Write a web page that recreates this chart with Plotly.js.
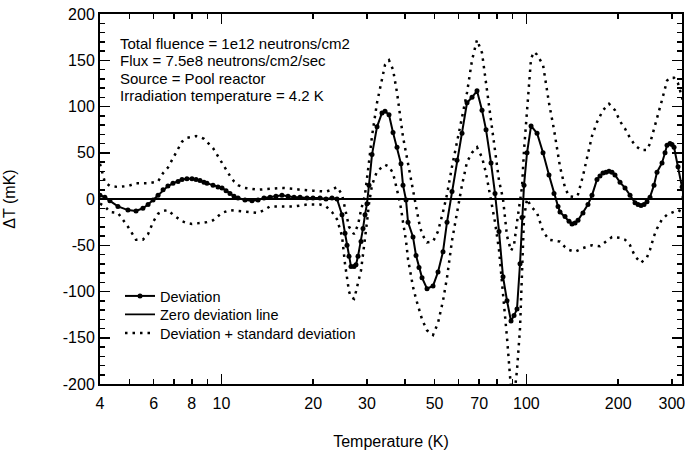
<!DOCTYPE html>
<html>
<head>
<meta charset="utf-8">
<script src="https://cdn.plot.ly/plotly-3.0.1.min.js"></script>
<style>html,body{margin:0;padding:0;background:#fff;}#chart{width:685px;height:451px;}</style>
</head>
<body>
<div id="chart"></div>
<script>
// ---- Data ----
var devT = [4.00,4.15,4.31,4.58,4.94,5.25,5.53,5.75,5.97,6.20,6.44,6.68,6.94,7.21,7.43,7.71,8.01,8.26,8.51,8.77,8.97,9.39,9.75,10.05,10.36,10.67,11.00,11.34,11.95,12.60,13.19,13.80,14.44,15.10,15.80,16.54,17.31,18.11,19.09,19.97,21.06,22.03,23.05,23.94,24.86,25.43,25.82,26.21,26.61,27.22,27.63,28.05,28.70,29.13,29.58,30.02,30.48,31.18,32.38,33.62,34.40,35.45,36.54,37.66,38.81,39.40,40.31,40.92,42.49,43.47,44.46,45.48,47.23,49.42,51.32,53.29,54.93,57.04,59.23,61.51,63.88,66.34,68.89,71.54,73.74,76.57,78.92,81.34,83.83,86.40,89.05,91.09,93.17,95.31,96.76,98.24,100.5,103.6,108.4,113.4,118.6,123.2,127.0,128.9,133.9,138.0,141.1,144.4,147.7,153.3,159.2,164.1,170.4,174.3,178.3,182.4,186.6,190.9,195.2,202.8,210.6,218.7,227.1,232.3,237.6,243.1,248.6,254.3,262.1,268.1,278.4,284.8,289.2,295.8,300.3,304.9,314.2,323.8,328.7];
var devY = [4,2,-2,-8,-12,-13,-10,-6,-1,4,10,14,17,19,21,22,22,21,20,18,17,15,13,12,9,6,3,1,-1,-2,-1,1,2,3,4,3,2,2,1,1,1,0,1,0,-17,-37,-50,-62,-73,-73,-71,-62,-46,-32,-17,-5,15,48,78,93,95,91,72,56,38,15,-1,-25,-41,-61,-74,-85,-97,-94,-79,-57,-25,8,42,71,104,110,117,96,75,39,6,-35,-84,-110,-132,-126,-119,-70,-20,15,50,79,71,50,26,6,-8,-14,-19,-24,-27,-26,-23,-15,-6,4,21,25,28,29,30,29,26,18,12,4,-4,-6,-7,-6,-3,2,15,29,39,50,58,60,59,56,35,13,2];

var upT = [4.00,4.15,4.31,4.58,4.94,5.25,5.53,5.75,6.20,6.44,6.68,6.94,7.21,7.43,7.71,8.01,8.26,8.51,8.77,9.39,9.75,10.05,10.36,10.67,11.00,11.34,11.95,13.19,14.44,15.80,17.31,18.11,19.97,22.03,23.05,23.94,24.86,25.43,26.21,27.22,28.05,28.70,29.58,30.48,31.18,32.38,33.62,34.40,35.45,36.54,37.66,38.81,39.40,40.31,40.92,42.49,43.47,44.46,45.48,47.23,49.42,51.32,53.29,54.93,57.04,59.23,61.51,63.88,66.34,68.89,71.54,73.74,76.57,78.92,81.34,83.83,86.40,89.05,91.09,93.17,95.31,96.76,98.24,100.5,103.6,106.0,108.4,113.4,118.6,123.2,127.0,128.9,133.9,138.0,144.4,147.7,153.3,159.2,164.1,170.4,178.3,186.6,195.2,202.8,210.6,218.7,227.1,237.6,248.6,254.3,262.1,268.1,278.4,289.2,295.8,304.9,314.2,323.8,328.7];
var upY = [38,18,14,13,14,17,17,17,19,28,34,44,55,62,66,67,68,67,65,55,46,40,33,25,19,15,12,10,11,12,11,10,9,8,10,13,5,-10,-30,-38,-28,-12,5,40,68,104,130,145,150,140,115,85,67,50,38,10,-10,-25,-38,-47,-46,-35,-14,5,35,62,89,115,150,172,158,125,85,53,20,0,-40,-56,-50,-25,0,13,53,96,152,159,156,145,104,75,45,35,12,3,2,5,25,48,68,83,96,103,96,84,76,66,58,53,53,60,75,88,107,128,131,131,125,110,100];

var loT = [4.00,4.15,4.31,4.58,4.94,5.25,5.53,5.75,5.97,6.20,6.44,6.68,6.94,7.21,7.43,7.71,8.01,8.51,8.97,9.39,9.75,10.05,10.67,11.34,11.95,12.60,13.19,13.80,14.44,15.80,17.31,19.09,21.06,22.03,23.05,23.94,24.86,25.43,25.82,26.21,26.61,27.22,27.63,28.05,28.70,29.13,29.58,30.02,30.48,31.18,32.38,33.62,34.40,35.45,36.54,37.66,38.81,39.40,40.31,40.92,42.49,43.47,44.46,45.48,47.23,49.42,51.32,53.29,54.93,57.04,59.23,61.51,63.88,66.34,68.89,71.54,73.74,76.57,78.92,81.34,83.83,86.40,89.05,91.09,93.17,95.31,96.76,98.24,100.5,103.6,108.4,113.4,118.6,123.2,128.9,133.9,138.0,144.4,153.3,164.1,174.3,182.4,190.9,202.8,210.6,218.7,227.1,237.6,248.6,254.3,262.1,268.1,278.4,289.2,300.3,314.2,328.7];
var loY = [-5,-8,-14,-15,-30,-44,-44,-38,-25,-16,-13,-12,-17,-21,-24,-26,-27,-26,-25,-23,-19,-15,-12,-13,-14,-15,-15,-12,-8,-8,-8,-6,-6,-8,-14,-22,-40,-70,-88,-100,-106,-108,-100,-92,-77,-60,-45,-25,-5,15,30,35,37,35,28,10,-10,-25,-45,-65,-95,-108,-120,-130,-142,-147,-134,-110,-85,-45,-15,15,40,50,56,45,28,0,-25,-55,-100,-150,-205,-215,-185,-140,-80,-20,0,-8,-15,-35,-44,-45,-46,-52,-55,-57,-53,-50,-51,-46,-41,-42,-44,-50,-62,-69,-63,-55,-40,-32,-22,-17,-15,-12,-15];

var zeroT = [4, 330];
var zeroY = [0, 0];

var xTickVals = [4,5,6,7,8,9,20,30,40,50,60,70,80,90,200,300];
var xTickText = ['4','','6','','8','','20','30','','50','','70','','','200','300'];
var xLongTickVals = [10,100];
var xLongTickText = ['10','100'];
var yTickVals = [-200,-150,-100,-50,0,50,100,150,200];
var yTickText = ['-200','-150','-100','-50','0','50','100','150','200'];

var seriesNames = ['Deviation','Zero deviation line','Deviation + standard deviation'];
var infoLines = ['Total fluence = 1e12 neutrons/cm2','Flux = 7.5e8 neutrons/cm2/sec','Source = Pool reactor','Irradiation temperature = 4.2 K'];
var xTitle = 'Temperature (K)';
var yTitle = '\u0394T (mK)';

// ---- Chart ----
var FONT = 'Liberation Sans, Arial, Helvetica, sans-serif';
var xr = [Math.log10(4), Math.log10(4) + 582/305];
var dotDash = '2.5px,5px';

var traces = [
  {x: zeroT, y: zeroY, xaxis: 'x2', yaxis: 'y', mode: 'lines', name: seriesNames[1], legend: 'legend2',
   line: {color: '#000', width: 1.8}},
  {x: upT, y: upY, mode: 'lines', name: seriesNames[2], legend: 'legend3',
   line: {color: '#000', width: 2.5, dash: dotDash}},
  {x: loT, y: loY, mode: 'lines', name: seriesNames[2], showlegend: false,
   line: {color: '#000', width: 2.5, dash: dotDash}},
  {x: devT, y: devY, mode: 'lines+markers', name: seriesNames[0], legend: 'legend',
   line: {color: '#000', width: 2}, marker: {color: '#000', size: 5}}
];

var annotations = infoLines.map(function(t, i){
  var ypx = 43.5 + i*17.3;
  return {text: t, xref: 'paper', yref: 'paper', x: 18/582, y: 1 - (ypx-14)/370,
          xanchor: 'left', yanchor: 'middle', showarrow: false,
          font: {family: FONT, size: 15, color: '#000'}};
});

function legendAt(centerPx){
  return {x: 20/582, y: 1 - (centerPx - 16 - 14)/370, xanchor: 'left', yanchor: 'top',
          bgcolor: 'rgba(0,0,0,0)', borderwidth: 0, font: {family: FONT, size: 14.5, color: '#000'}};
}

var layout = {
  width: 685, height: 451,
  margin: {l: 100, r: 3, t: 14, b: 67},
  paper_bgcolor: '#fff', plot_bgcolor: '#fff',
  font: {family: FONT, size: 16, color: '#000'},
  showlegend: true,
  legend: legendAt(296),
  legend2: legendAt(314.5),
  legend3: legendAt(333),
  xaxis: {type: 'log', range: xr, showline: true, linecolor: '#000', linewidth: 2, mirror: 'ticks',
          ticks: 'inside', ticklen: 5, tickwidth: 1.5, tickcolor: '#000',
          tickmode: 'array', tickvals: xTickVals.concat(xLongTickVals), ticktext: xTickText.concat(xLongTickText),
          ticklabeloverflow: 'allow', ticklabelstandoff: 4,
          showgrid: false, zeroline: false, tickfont: {family: FONT, size: 16},
          title: {text: xTitle, font: {family: FONT, size: 16}, standoff: 25}},
  xaxis2: {type: 'log', range: xr, overlaying: 'x', anchor: 'y', side: 'bottom',
           showline: false, mirror: 'ticks', ticks: 'inside', ticklen: 10, tickwidth: 1.5, tickcolor: '#000',
           tickmode: 'array', tickvals: xLongTickVals, showticklabels: false, showgrid: false, zeroline: false},
  yaxis: {range: [-200, 200], showline: true, linecolor: '#000', linewidth: 2, mirror: 'ticks',
          ticks: 'inside', ticklen: 10, tickwidth: 1.5, tickcolor: '#000',
          tickmode: 'array', tickvals: yTickVals, ticktext: yTickText, ticklabeloverflow: 'allow',
          minor: {ticks: 'inside', ticklen: 5, tickwidth: 1.5, tickcolor: '#000', dtick: 10, tick0: 0, showgrid: false},
          showgrid: false, zeroline: false, tickfont: {family: FONT, size: 16},
          title: {text: yTitle, font: {family: FONT, size: 16}, standoff: 43}},
  annotations: annotations
};

Plotly.newPlot('chart', traces, layout, {displayModeBar: false, staticPlot: true});
</script>
</body>
</html>
